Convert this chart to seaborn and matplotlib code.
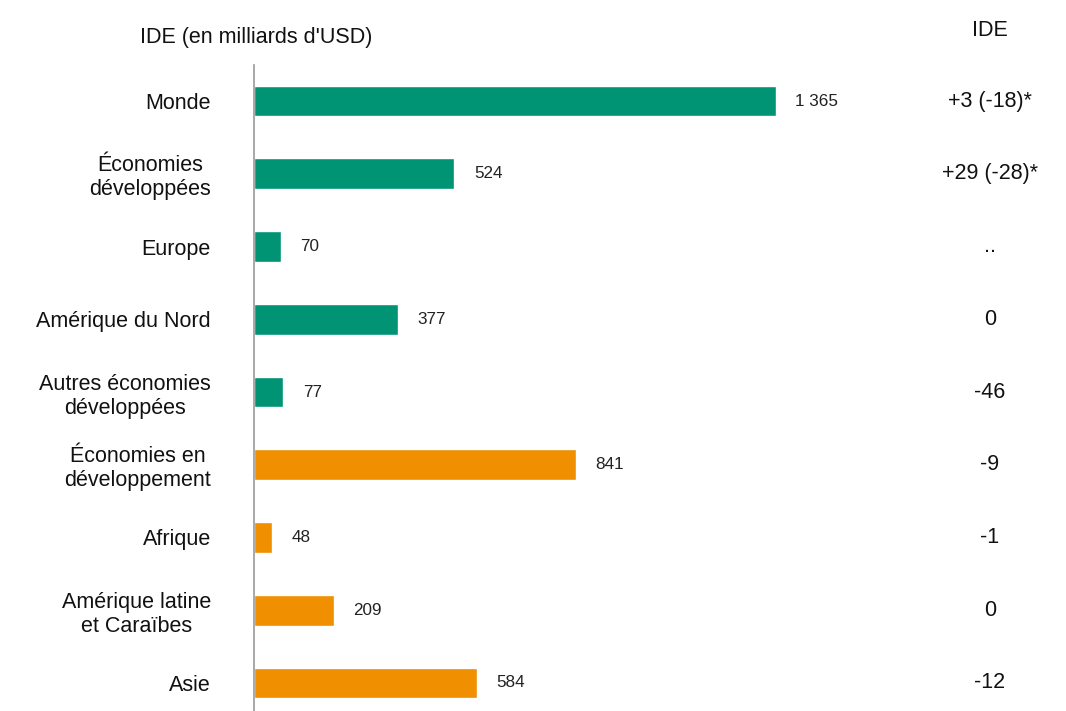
import matplotlib
matplotlib.use("Agg")
import matplotlib.pyplot as plt
import seaborn as sns
import pandas as pd

regions = ["Monde", "Économies\ndéveloppées", "Europe", "Amérique du Nord",
           "Autres économies\ndéveloppées", "Économies en\ndéveloppement", "Afrique",
           "Amérique latine\net Caraïbes", "Asie"]
values = [1365, 524, 70, 377, 77, 841, 48, 209, 584]
groups = ["dev", "dev", "dev", "dev", "dev", "ing", "ing", "ing", "ing"]
value_labels = ["1 365", "524", "70", "377", "77", "841", "48", "209", "584"]
ide_change = ["+3 (-18)*", "+29 (-28)*", "..", "0", "-46", "-9", "-1", "0", "-12"]

sns.set_theme(style="white")
plt.rcParams['font.family'] = ['Liberation Sans', 'DejaVu Sans']

df = pd.DataFrame({"region": regions, "value": values, "group": groups})
palette = {"dev": "#009474", "ing": "#F08F00"}

W, H = 1066, 711
fig = plt.figure(figsize=(W / 100, H / 100), dpi=100)
ax_left, ax_right = 254, 1066
ax_top, ax_bot = 65, 711
ax = fig.add_axes([ax_left / W, 0, (ax_right - ax_left) / W, (ax_bot - ax_top) / H])

sns.barplot(data=df, y="region", x="value", hue="group", palette=palette,
            dodge=False, legend=False, width=0.42, ax=ax, saturation=1)

px_per_unit = 522 / 1365
ax.set_xlim(0, (ax_right - ax_left) / px_per_unit)
ax.set_ylim(8.385, -0.495)

for cont in ax.containers:
    lbls = []
    for bar in cont:
        idx = int(round(bar.get_y() + bar.get_height() / 2))
        lbls.append(value_labels[idx])
    ax.bar_label(cont, labels=lbls, padding=14, fontsize=12.3, color="#222222")

ax.set_xlabel("")
ax.set_ylabel("")
ax.set_xticks([])
ax.tick_params(axis="y", length=0, pad=31, labelsize=15.5, labelcolor="#111111")
for lab in ax.get_yticklabels():
    lab.set_linespacing(1.2)
    lab.set_multialignment("center")
for s in ["top", "right", "bottom"]:
    ax.spines[s].set_visible(False)
ax.spines["left"].set_color("#999999")
ax.spines["left"].set_linewidth(1.2)

col_x = (990 - ax_left) / (ax_right - ax_left)
for i, t in enumerate(ide_change):
    ax.text(col_x, i, t, transform=ax.get_yaxis_transform(), ha="center", va="center",
            fontsize=15.5, color="#111111")

fig.text(256 / W, 1 - 37 / H, "IDE (en milliards d'USD)", ha="center", va="center",
         fontsize=15.5, color="#111111")
fig.text(990 / W, 1 - 31 / H, "IDE", ha="center", va="center", fontsize=15.5, color="#111111")

fig.savefig("out.png", dpi=100, facecolor="white")
